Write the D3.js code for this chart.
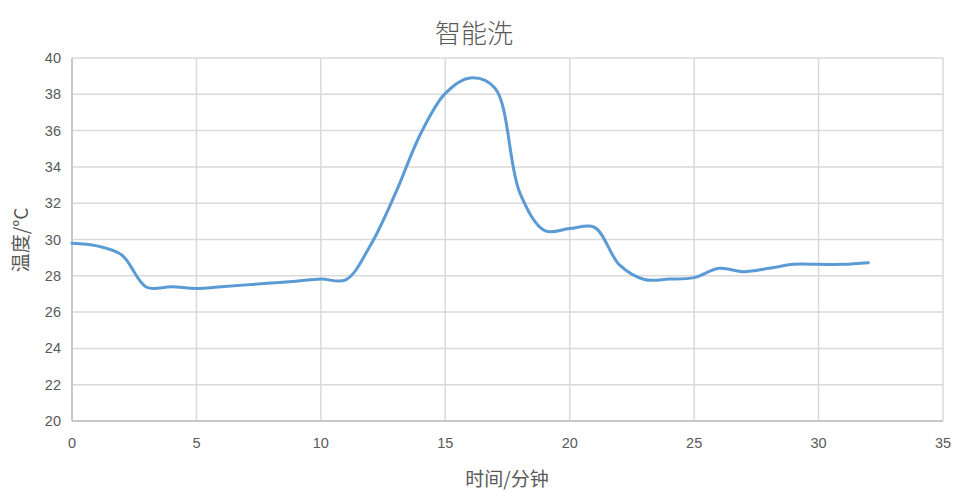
<!DOCTYPE html>
<html><head><meta charset="utf-8">
<script src="https://cdn.jsdelivr.net/npm/d3@7"></script>
<style>body{margin:0;background:#fff}</style>
</head><body>
<svg id="c" width="964" height="504"></svg>
<script>
const title = "智能洗";
const xTitle = "时间/分钟";
const yTitle = "温度/°C";
const minutes = [0,1,2,3,4,5,6,7,8,9,10,11,12,13,14,15,16,17,18,19,20,21,22,23,24,25,26,27,28,29,30,31,32];
const temps = [29.8,29.65,29.15,27.37,27.4,27.3,27.4,27.5,27.6,27.7,27.82,27.78,29.7,32.55,35.8,38.05,38.9,38.33,32.56,30.49,30.6,30.67,28.6,27.8,27.82,27.9,28.41,28.23,28.41,28.63,28.63,28.63,28.72];
const xTicks = [0,5,10,15,20,25,30,35];
const yTicks = [20,22,24,26,28,30,32,34,36,38,40];

const svg = d3.select("#c");
const font = "'Liberation Sans','Open Sans',sans-serif";
const cjk = "'Noto Sans CJK SC',sans-serif";
const x = d3.scaleLinear().domain([0,35]).range([72,943]);
const y = d3.scaleLinear().domain([20,40]).range([421,58]);

// grid
svg.append("g").selectAll("line").data(yTicks).join("line")
  .attr("x1",x(0)).attr("x2",x(35)).attr("y1",d=>y(d)).attr("y2",d=>y(d))
  .attr("stroke","#d9d9d9").attr("stroke-width",1.5);
svg.append("g").selectAll("line").data(xTicks).join("line")
  .attr("y1",y(20)).attr("y2",y(40)).attr("x1",d=>x(d)).attr("x2",d=>x(d))
  .attr("stroke","#d9d9d9").attr("stroke-width",1.5);
// axes lines
svg.append("line").attr("x1",x(0)).attr("x2",x(35)).attr("y1",y(20)).attr("y2",y(20)).attr("stroke","#bfbfbf").attr("stroke-width",1.5);
svg.append("line").attr("x1",x(0)).attr("x2",x(0)).attr("y1",y(20)).attr("y2",y(40)).attr("stroke","#bfbfbf").attr("stroke-width",1.5);

// tick labels
svg.append("g").selectAll("text").data(yTicks).join("text")
  .attr("x",61).attr("y",d=>y(d)).attr("dy","0.35em").attr("text-anchor","end")
  .attr("font-family",font).attr("font-size",14.5).attr("fill","#595959").text(d=>d);
svg.append("g").selectAll("text").data(xTicks).join("text")
  .attr("x",d=>x(d)).attr("y",448).attr("text-anchor","middle")
  .attr("font-family",font).attr("font-size",14.5).attr("fill","#595959").text(d=>d);

// line
const line = d3.line().x((d,i)=>x(minutes[i])).y(d=>y(d)).curve(d3.curveCatmullRom.alpha(0.5));
svg.append("path").datum(temps).attr("d",line).attr("fill","none")
  .attr("stroke","#5b9bd5").attr("stroke-width",3).attr("stroke-linejoin","round").attr("stroke-linecap","round");

// titles
svg.append("text").attr("x",474).attr("y",43).attr("text-anchor","middle")
  .attr("font-family",cjk).attr("font-weight",300).attr("font-size",26).attr("fill","#595959").text(title);
svg.append("text").attr("x",507).attr("y",486).attr("text-anchor","middle")
  .attr("font-family",cjk).attr("font-size",19).attr("fill","#595959").text(xTitle);
svg.append("text").attr("transform","translate(28,240) rotate(-90)").attr("text-anchor","middle")
  .attr("font-family",cjk).attr("font-size",19).attr("fill","#595959").text(yTitle);
</script>
</body></html>
